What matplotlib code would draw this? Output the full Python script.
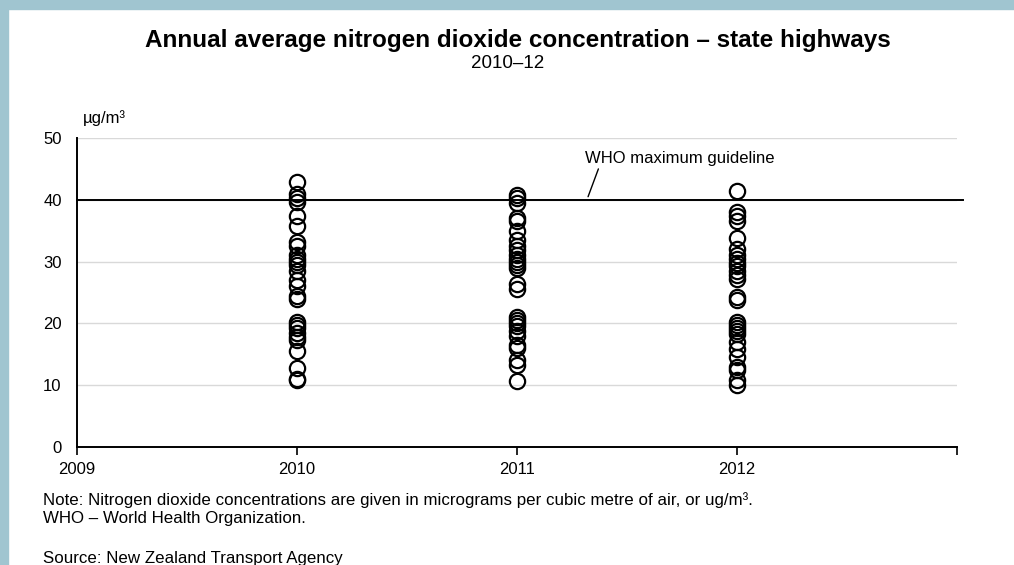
import numpy as np
import matplotlib.pyplot as plt
from matplotlib.patches import Rectangle

plt.rcParams['font.family'] = ['Liberation Sans', 'DejaVu Sans']

# Data: annual average NO2 at state highway sites (ug/m3)
years = [2010, 2011, 2012]
no2_2010 = [42.8, 41.0, 40.3, 39.7, 37.3, 35.7, 33.2, 32.5, 31.0, 30.5, 30.0, 29.5,
            28.5, 27.0, 26.0, 24.5, 24.0, 20.3, 19.8, 19.3, 18.5, 17.8, 17.3, 15.5,
            12.8, 11.0, 10.8]
no2_2011 = [40.8, 40.3, 39.5, 37.0, 36.5, 35.0, 33.5, 32.5, 31.8, 31.0, 30.5, 30.0,
            29.5, 29.0, 26.3, 25.5, 21.0, 20.5, 20.0, 19.5, 18.8, 18.0, 16.5, 16.0,
            14.0, 13.3, 10.7]
no2_2012 = [41.5, 38.0, 37.3, 36.5, 33.8, 32.0, 31.0, 30.5, 29.8, 29.3, 28.5, 27.8,
            27.2, 24.3, 23.8, 20.3, 19.8, 19.3, 18.8, 18.3, 17.0, 15.8, 14.5, 13.0,
            12.5, 10.8, 10.0]
series = [no2_2010, no2_2011, no2_2012]
who_limit = 40
x_ticks = [2009, 2010, 2011, 2012, 2013]
x_labels = ['2009', '2010', '2011', '2012', '']
y_ticks = [0, 10, 20, 30, 40, 50]

border = '#a0c5d0'

fig = plt.figure(figsize=(10.14, 5.65), dpi=100)
fig.patch.set_facecolor('white')
# light blue frame on left and top
fig.add_artist(Rectangle((0, 0), 8 / 1014, 1, transform=fig.transFigure,
                         color=border, zorder=0))
fig.add_artist(Rectangle((0, 1 - 9 / 565), 1, 9 / 565, transform=fig.transFigure,
                         color=border, zorder=0))

ax = fig.add_axes([77 / 1014, 1 - 447 / 565, (957 - 77) / 1014, (447 - 138) / 565])

for yr, vals in zip(years, series):
    ax.plot([yr] * len(vals), vals, 'o', markersize=11, markerfacecolor='none',
            markeredgecolor='black', markeredgewidth=1.6, zorder=3, clip_on=False)

ax.axhline(who_limit, color='black', lw=1.4, zorder=2, xmax=1.007, clip_on=False)

ax.set_xlim(2009, 2013)
ax.set_ylim(0, 50)
ax.set_xticks(x_ticks)
ax.set_xticklabels(x_labels)
ax.set_yticks(y_ticks)
ax.yaxis.grid(True, color='#d9d9d9', lw=1)
ax.set_axisbelow(True)
for s in ['top', 'right']:
    ax.spines[s].set_visible(False)
ax.spines['left'].set_linewidth(1.4)
ax.spines['bottom'].set_linewidth(1.4)
ax.tick_params(axis='y', length=0, pad=11, labelsize=12)
ax.tick_params(axis='x', direction='out', length=6, width=1.2, pad=5, labelsize=12)

ax.text(0.007, 1.04, 'µg/m³', transform=ax.transAxes, fontsize=12, va='bottom')

# guideline label with short leader line
ax.text(2011.74, 46.7, 'WHO maximum guideline', fontsize=12, ha='center', va='center')
ax.annotate('', xy=(2011.323, 40.5), xytext=(2011.37, 45.0),
            arrowprops=dict(arrowstyle='-', color='black', lw=1,
                            shrinkA=0, shrinkB=0))

fig.text(518 / 1014, 1 - 41 / 565, 'Annual average nitrogen dioxide concentration – state highways',
         ha='center', va='center', fontsize=17.5, fontweight='bold')
fig.text(508 / 1014, 1 - 63 / 565, '2010–12', ha='center', va='center', fontsize=13.5)

fig.text(43 / 1014, 1 - 500 / 565,
         'Note: Nitrogen dioxide concentrations are given in micrograms per cubic metre of air, or ug/m³.',
         ha='left', va='center', fontsize=12.2)
fig.text(43 / 1014, 1 - 519 / 565, 'WHO – World Health Organization.',
         ha='left', va='center', fontsize=12.2)
fig.text(43 / 1014, 1 - 559 / 565, 'Source: New Zealand Transport Agency',
         ha='left', va='center', fontsize=12.2)

fig.savefig('out.png', dpi=100)
